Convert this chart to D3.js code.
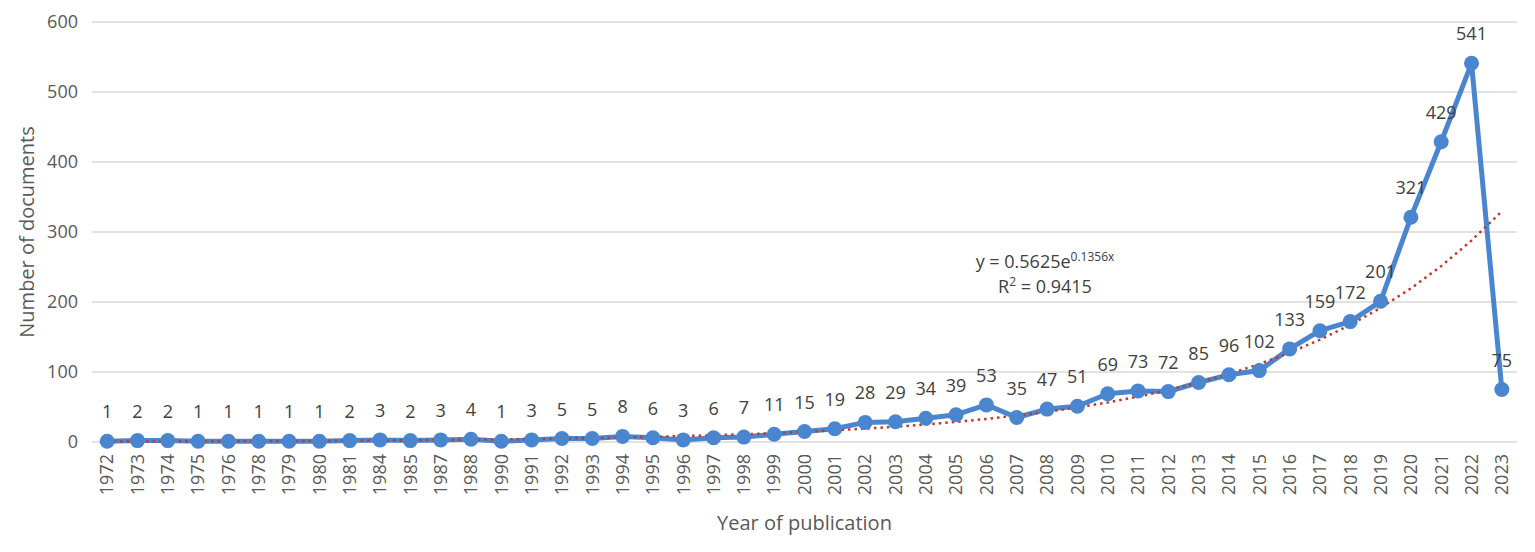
<!DOCTYPE html>
<html>
<head>
<meta charset="utf-8">
<script src="https://cdn.jsdelivr.net/npm/d3@7"></script>
<style>
  body { margin: 0; background: #fff; }
  svg { font-family: "Open Sans", sans-serif; }
</style>
</head>
<body>
<svg class="figure" width="1535" height="552"></svg>
<script>
var years = ["1972","1973","1974","1975","1976","1978","1979","1980","1981","1984","1985","1987","1988",
  "1990","1991","1992","1993","1994","1995","1996","1997","1998","1999","2000","2001","2002","2003",
  "2004","2005","2006","2007","2008","2009","2010","2011","2012","2013","2014","2015","2016","2017",
  "2018","2019","2020","2021","2022","2023"];
var documents = [1,2,2,1,1,1,1,1,2,3,2,3,4,
  1,3,5,5,8,6,3,6,7,11,15,19,28,29,
  34,39,53,35,47,51,69,73,72,85,96,102,133,159,
  172,201,321,429,541,75];
var yTicks = [0, 100, 200, 300, 400, 500, 600];
// exponential trendline as printed on the chart
var trendA = 0.5625;
var trendB = 0.1356;
var trendR2 = 0.9415;

var svg = d3.select("svg.figure");
var plotLeft = 92, plotRight = 1517, plotTop = 22, plotBottom = 442;

var x = d3.scaleBand()
  .domain(years)
  .range([plotLeft, plotRight]);

var y = d3.scaleLinear()
  .domain([0, 600])
  .range([plotBottom, plotTop]);

// gridlines
svg.append("g")
  .selectAll("line")
  .data(yTicks)
  .enter()
  .append("line")
  .attr("x1", plotLeft)
  .attr("x2", plotRight)
  .attr("y1", function(d) { return y(d); })
  .attr("y2", function(d) { return y(d); })
  .attr("stroke", "#d9d9d9")
  .attr("stroke-width", 1.3);

// y axis labels
var yAxis = svg.append("g")
  .attr("transform", "translate(" + (plotLeft - 8) + ",0)")
  .call(d3.axisLeft(y).tickValues(yTicks).tickSize(0).tickPadding(6));
yAxis.select(".domain").remove();
yAxis.selectAll("text")
  .attr("font-size", 18)
  .attr("fill", "#595959")
  .attr("font-family", "Open Sans, sans-serif");

// x axis labels
var xAxis = svg.append("g")
  .attr("transform", "translate(0," + plotBottom + ")")
  .call(d3.axisBottom(x).tickSize(0).tickPadding(0));
xAxis.select(".domain").remove();
xAxis.selectAll("text")
  .attr("font-size", 18)
  .attr("fill", "#595959")
  .attr("font-family", "Open Sans, sans-serif")
  .attr("text-anchor", "end")
  .attr("dy", "0.35em")
  .attr("transform", "translate(0,12) rotate(-90)");

// axis titles
svg.append("text")
  .attr("x", (plotLeft + plotRight) / 2)
  .attr("y", 530)
  .attr("text-anchor", "middle")
  .attr("font-size", 20)
  .attr("fill", "#595959")
  .text("Year of publication");

svg.append("text")
  .attr("transform", "translate(34," + ((plotTop + plotBottom) / 2) + ") rotate(-90)")
  .attr("text-anchor", "middle")
  .attr("font-size", 20)
  .attr("fill", "#595959")
  .text("Number of documents");

var cx = function(d, i) { return x(years[i]) + x.bandwidth() / 2; };

// data line
var line = d3.line()
  .x(function(d, i) { return cx(d, i); })
  .y(function(d) { return y(d); });

svg.append("path")
  .datum(documents)
  .attr("d", line)
  .attr("fill", "none")
  .attr("stroke", "#4a86d0")
  .attr("stroke-width", 5)
  .attr("stroke-linejoin", "round");

// trendline
var trendLine = d3.line()
  .x(function(d, i) { return cx(d, i); })
  .y(function(d, i) { return y(trendA * Math.exp(trendB * (i + 1))); });

svg.append("path")
  .datum(documents)
  .attr("d", trendLine)
  .attr("fill", "none")
  .attr("stroke", "#c0392b")
  .attr("stroke-width", 2.5)
  .attr("stroke-dasharray", "2.5,4");

// markers
svg.append("g")
  .selectAll("circle")
  .data(documents)
  .enter()
  .append("circle")
  .attr("cx", cx)
  .attr("cy", function(d) { return y(d); })
  .attr("r", 7.5)
  .attr("fill", "#4a86d0");

// data labels
svg.append("g")
  .selectAll("text")
  .data(documents)
  .enter()
  .append("text")
  .attr("x", cx)
  .attr("y", function(d) { return y(d) - 23; })
  .attr("text-anchor", "middle")
  .attr("font-size", 18)
  .attr("fill", "#404040")
  .text(function(d) { return d; });

// trendline equation
var eq = svg.append("text")
  .attr("x", 1045)
  .attr("y", 268)
  .attr("text-anchor", "middle")
  .attr("font-size", 18)
  .attr("fill", "#404040");
eq.append("tspan").text("y = " + trendA + "e");
eq.append("tspan").attr("font-size", 12).attr("dy", -7).text(trendB + "x");

var r2 = svg.append("text")
  .attr("x", 1045)
  .attr("y", 293)
  .attr("text-anchor", "middle")
  .attr("font-size", 18)
  .attr("fill", "#404040");
r2.append("tspan").text("R");
r2.append("tspan").attr("font-size", 12).attr("dy", -7).text("2");
r2.append("tspan").attr("dy", 7).text(" = " + trendR2);
</script>
</body>
</html>
